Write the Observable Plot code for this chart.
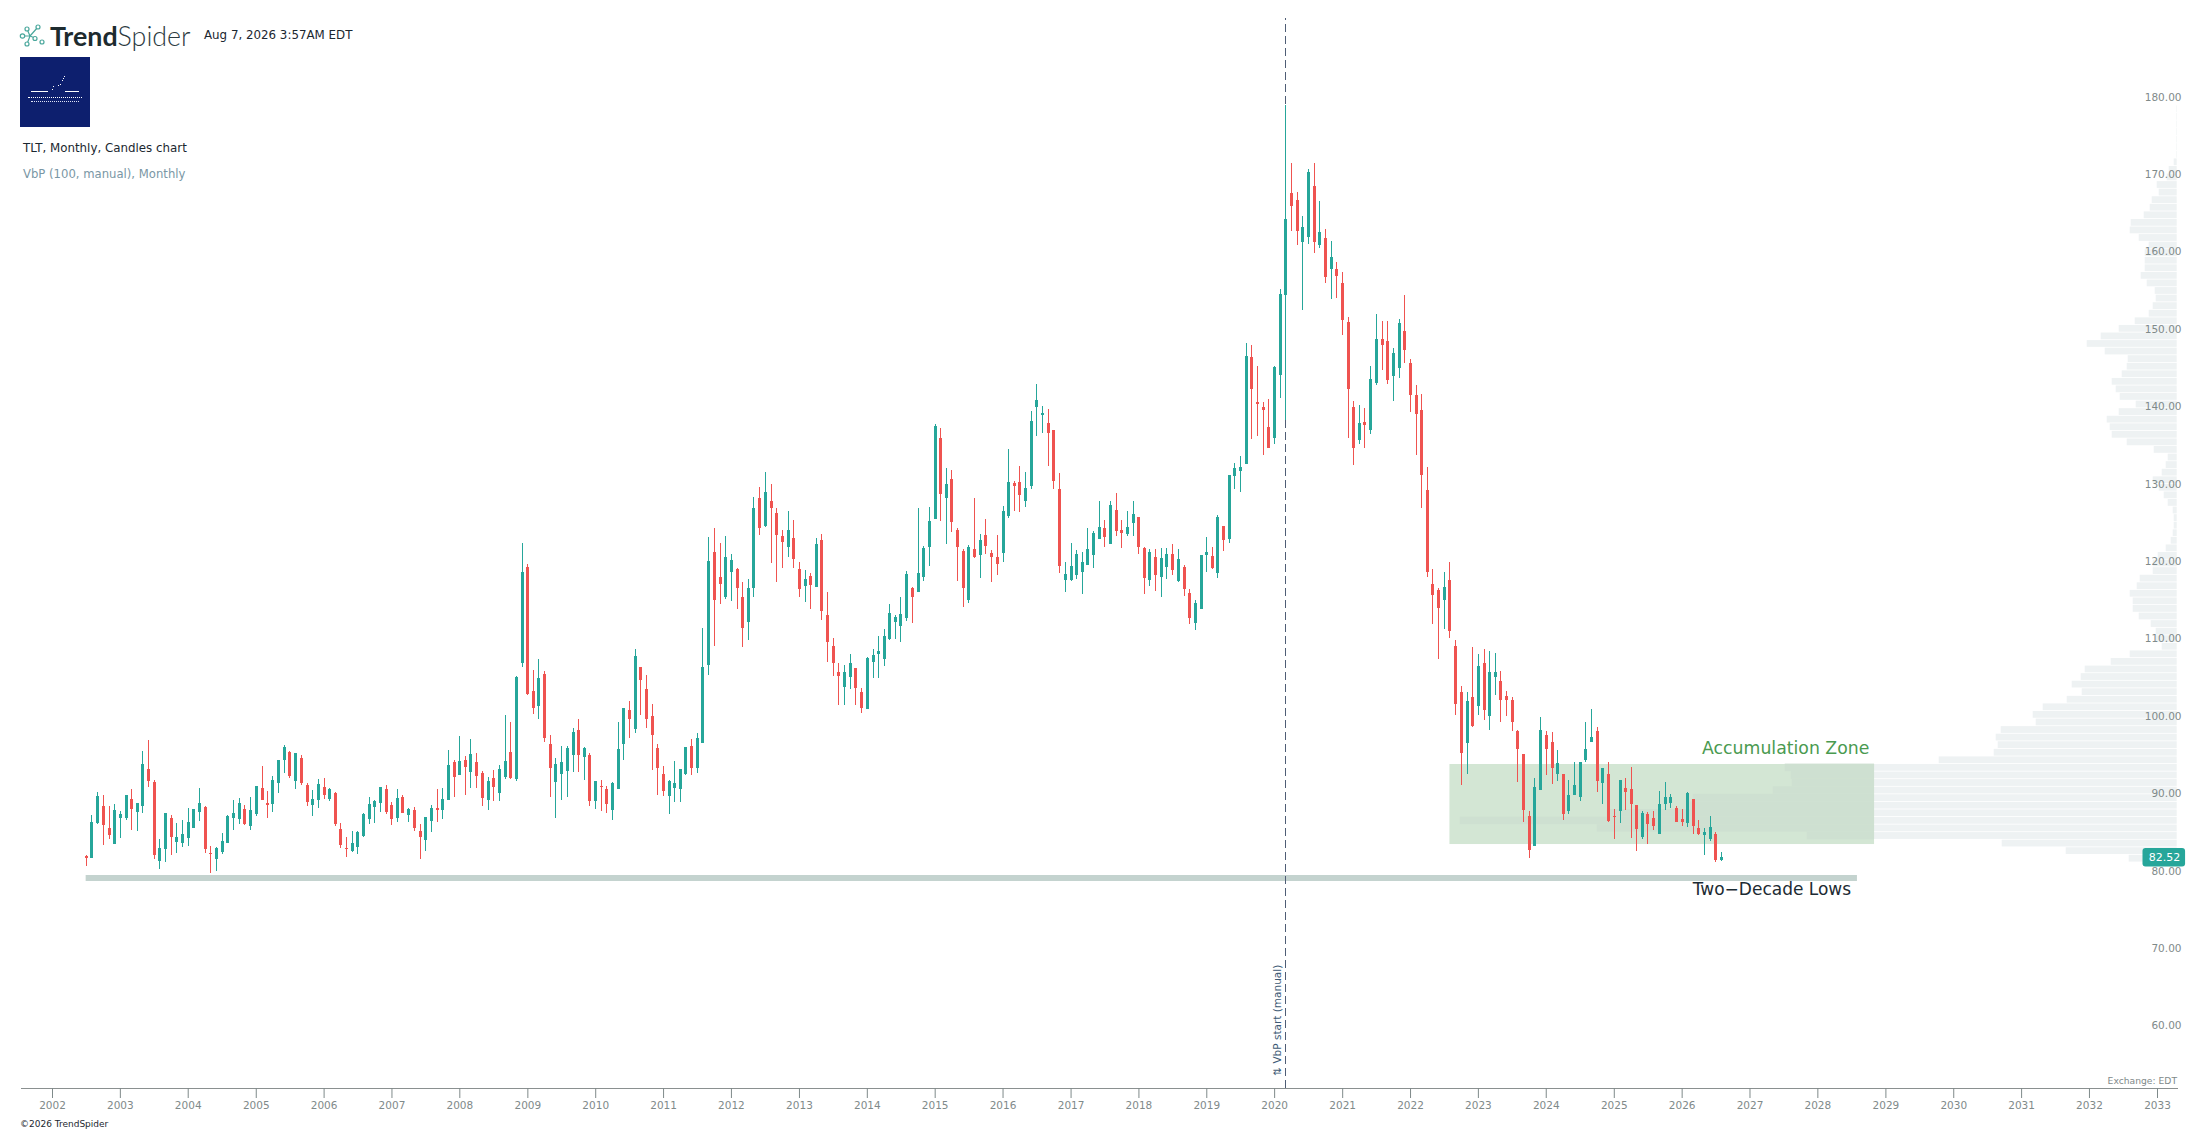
<!DOCTYPE html>
<html>
<head>
<meta charset="utf-8">
<script src="https://cdn.jsdelivr.net/npm/d3@7"></script>
<script src="https://cdn.jsdelivr.net/npm/@observablehq/plot@0.6"></script>
<style>
html,body{margin:0;padding:0;background:#fff;}
#page{position:relative;width:2207px;height:1134px;overflow:hidden;font-family:"DejaVu Sans",sans-serif;}
#chart{position:absolute;left:0;top:0;}
.abs{position:absolute;white-space:nowrap;}
</style>
</head>
<body>
<div id="page">
<div id="chart"></div>
<svg class="abs" style="left:18px;top:22px" width="32" height="26" viewBox="18 22 32 26">
<g fill="none" stroke="#4aa79c" stroke-width="1.2"><path d="M27 29L30 36L27 44M22 36L30 36M30 36L38 27M30 36L35 38"/></g>
<g fill="#fff" stroke="#4aa79c" stroke-width="1.2"><circle cx="22.5" cy="36" r="2.2"/><circle cx="27" cy="29" r="2"/><circle cx="38" cy="27" r="2"/><circle cx="35" cy="38.5" r="2"/><circle cx="42" cy="42" r="2"/><circle cx="27" cy="44" r="2"/></g>
</svg>
<div class="abs" style="left:50px;top:20px;font:700 26.8px Lato,sans-serif;color:#1d2b2f;line-height:30px">Trend<span style="font:300 26.8px Lato,sans-serif;color:#2b3a3f">Spider</span></div>
<div class="abs" style="left:204px;top:28px;font-size:11.85px;line-height:15px;color:#1b2730">Aug 7, 2026 3:57AM EDT</div>
<div class="abs" style="left:20px;top:57px;width:70px;height:70px;background:#0d1f6e">
  <div class="abs" style="left:11px;top:34px;width:17px;height:1px;background:#fff"></div>
  <div class="abs" style="left:45px;top:34px;width:14px;height:1px;background:#fff"></div>
  <div class="abs" style="left:8px;top:40px;width:54px;border-top:1px dotted #fff"></div>
  <div class="abs" style="left:11px;top:44px;width:48px;border-top:1px dotted #dfe3f5"></div>
  <div class="abs" style="left:32px;top:32px;width:1px;height:1px;background:#fff;box-shadow:1px -3px #fff,6px -4px #fff,8px -5px #fff,10px -9px #fff,11px -11px #fff,12px -13px #fff"></div>
</div>
<div class="abs" style="left:23px;top:141px;font-size:11.85px;line-height:15px;color:#1b2730">TLT, Monthly, Candles chart</div>
<div class="abs" style="left:23px;top:167px;font-size:11.65px;line-height:15px;color:#7a97a5">VbP (100, manual), Monthly</div>
<div class="abs" style="right:30px;top:1074px;font-size:9.2px;line-height:13px;color:#7f8a8a">Exchange: EDT</div>
<div class="abs" style="left:20px;top:1118px;font-size:9px;line-height:12px;color:#1b2730">©2026 TrendSpider</div>
</div>
<script>
// Monthly candles from July 2002 to August 2026
const firstMonth = Date.UTC(2002, 6, 1);
const direction = "DUUDDUUUDU"+"UDDUUDUUUU"+"UDDUUUUUDU"+"UDDUUUDUDD"+"UUDUDDDUUU"+"UUUDDUDUDD"+"UUDUUDUDUD"+"DUDUUDUUDD"+"UDDUUUUDUD"+"UDDUUUDUDD"
 +"DDDUUUUDUU"+"UDDUUDDUUD"+"UDDDUDDUDU"+"DDDDUUDDUU"+"UUUUUUDUUU"+"UDUDDDUDUD"+"DDUUDDUUUU"+"DDDUUUUUUU"+"DUDDUUDDUD"+"UUDUDDUUUD"
 +"UDUUUUDDDD"+"UUUDDUUDUD"+"UDDDDUDUUD"+"DUUDDDDDDD"+"UDDDUDUDUU"+"DDDDDDUUDD"+"UDUUUUUDUD"+"DUDDDUDDUU"+"UDDUDDUUDU";
const highs = [
82.8,87.97,90.94,90.55,89.13,89.39,88.49,90.55,91.33,89.52,
96.24,97.66,92.49,84.87,88.23,87.97,86.94,87.32,88.87,88.74,
91.46,89.13,83.96,83.83,85.64,87.97,89.91,90.16,89.26,90.29,
91.72,94.3,91.07,93.01,95.07,97.01,96.24,95.98,95.72,92.1,
91.2,92.62,92.75,91.46,90.94,86.94,85.13,85.9,85.9,88.23,
90.29,89.91,91.59,91.84,89.65,91.33,90.55,88.87,89,86.81,
87.71,89.26,91.33,91.46,96.37,95.07,98.18,95.59,97.79,95.98,
93.65,92.88,93.78,94.43,100.89,99.98,105.93,123.1,120.4,106.7,
108.12,106.57,98.31,95.33,96.88,96.88,99.21,100.37,96.75,95.98,
92.36,92.49,91.72,92.23,99.98,101.79,102.7,109.42,107.09,106.06,
102.31,97.14,94.3,92.49,94.95,93.91,96.75,97.79,98.56,112.13,
123.89,125.05,123.11,124.02,121.69,119.88,118.07,118.46,129.06,130.35,
132.29,130.73,127.63,124.79,127.25,126.08,120.66,119.62,119.23,123.76,
124.27,116.78,110.84,107.61,107.35,108.77,106.96,104.38,108.38,109.42,
111.09,112,115.23,113.81,116.13,119.49,117.43,127.63,122.72,127.76,
138.49,137.97,132.8,132.54,125.05,122.34,122.85,128.93,124.27,126.21,
122.21,124.15,127.89,135.26,131.12,133.06,132.29,140.17,143.65,140.81,
140.42,137.71,132.16,120.66,123.11,122.21,121.95,125.05,124.66,128.54,
126.08,128.54,129.57,126.08,127.25,128.54,126.47,122.6,122.34,122.34,
122.47,122.47,122.98,122.34,120.27,117.17,115.75,121.56,123.89,122.6,
126.73,125.31,131.9,133.45,134.35,148.95,148.69,145.98,141.32,141.71,
145.98,155.93,179.7,172.2,168.46,165.36,171.43,172.2,167.3,163.68,
162.13,159.41,158.12,152.31,141.45,140.94,140.55,145.98,152.69,151.79,
151.79,148.3,152.05,155.15,146.88,143.52,142.36,132.93,119.75,117.3,
119.36,120.66,110.58,104.63,103.86,109.67,108.77,109.42,109.16,108.9,
106.57,104,103.21,98.95,95.85,88.48,92.75,100.63,98.82,98.69,
96.37,93.26,92.49,94.81,94.81,99.98,101.66,99.34,94.04,94.81,
88.74,92.49,92.75,94.17,89.26,88.48,88.35,88.48,91.07,92.23,
90.68,89.13,88.74,90.94,90.03,87.32,86.29,87.84,85.77,83.19];
const bodyTops = [
82.67,87.06,90.42,89.13,86.29,88.61,88.1,90.55,90.04,89.52,
94.56,93.91,92.23,83.71,88.23,87.58,85.13,85.51,87.06,88.74,
89.52,89,83.02,83.71,84.61,87.84,88.23,89.52,88.74,88.61,
91.72,91.46,89.52,92.49,95.07,96.75,96.11,95.98,95.33,91.84,
90.04,91.97,91.59,91.33,90.81,86.16,83.66,84.35,85.77,88.1,
89.39,89.78,91.59,91.33,89.26,90.16,90.29,88.74,88.61,85.9,
87.71,88.87,88.87,90.04,94.43,94.82,94.95,95.07,95.85,94.82,
93.39,92.36,92.75,93.91,94.95,96.11,105.8,119.4,120,103.99,
105.67,106.19,97.14,94.56,94.82,96.63,98.69,98.95,96.63,95.72,
92.36,91.67,91.33,92.1,96.5,101.79,101.54,108.51,107.09,104.25,
100.76,96.63,93.27,92.36,92.1,93.91,96.75,96.88,97.92,107.09,
120.79,121.95,118.72,121.3,120.91,119.75,116.13,117.3,127.63,128.93,
129.7,128.54,126.99,124.02,124.79,123.76,119.75,118.46,118.85,122.98,
123.5,113.81,109.8,106.44,106.44,107.61,106.96,103.86,108.25,108.64,
109.16,111.09,114.07,113.55,113.94,119.1,117.3,119.24,122.47,125.95,
138.23,136.68,130.73,131.38,124.79,122.08,122.6,122.34,123.5,124.15,
121.82,121.3,127.25,130.99,130.86,130.99,130.22,138.87,141.59,139.91,
138.61,137.71,130.09,119.1,120.14,121.69,120.66,122.34,124.4,125.18,
125.05,128.02,127.38,124.79,125.18,126.86,126.47,122.47,121.95,121.3,
121.17,121.69,121.69,121.04,120.01,116.65,115.36,121.56,121.95,121.43,
126.47,125.31,131.9,132.8,132.93,147.27,147.14,141.32,140.68,138.09,
145.85,155.28,164.97,168.33,167.42,163.94,171.04,169.23,163.29,162.52,
160.06,158.51,156.7,151.66,140.68,138.61,138.74,144.29,149.46,149.46,
149.21,147.66,151.53,150.5,146.36,142.23,140.29,129.96,117.81,117.04,
117.43,118.33,109.8,103.86,102.7,103.21,107.22,107.61,106.44,106.44,
105.28,103.34,102.83,98.82,95.85,87.84,91.58,98.95,98.3,97.4,
94.69,93.26,90.55,91.84,94.81,96.49,98.04,98.82,94.04,93.26,
87.84,92.49,91.46,91.33,89.26,88.22,88.1,87.58,89.39,90.29,
90.29,88.87,87.45,90.81,90.03,86.29,85.77,86.42,85.51,82.54];
const bodyBottoms = [
82.41,82.4,86.94,86.68,85.38,84.22,87.58,87.58,88.74,88.36,
89.13,92.36,82.8,82.02,83.58,85.13,84.48,84.35,85,86.29,
88.36,83.58,82.97,82.28,83.19,84.35,87.58,87.45,86.81,86.55,
88.1,89.91,89.26,89.39,92.1,95.07,93.01,92.36,92.1,89.65,
89.26,89.91,90.55,90.04,86.81,84.09,83.62,83.32,83.83,85.26,
87.45,89,89.52,88.36,87.45,87.58,88.23,87.97,86.29,85.13,
84.74,87.19,88.61,88.61,89.91,92.88,93.14,94.17,93.52,93.01,
90.16,89.91,91.59,90.81,92.88,92.75,92.62,107.6,103.6,101.79,
102.05,97.92,94.04,92.23,93.27,93.65,95.72,95.72,95.46,89.78,
89.78,91.63,89.39,88.61,91.33,97.14,100.37,99.08,105.41,100.37,
98.31,94.04,91.07,90.42,91.46,91.33,93.27,94.04,94.04,97.27,
107.35,115.75,117.81,116.13,119.36,117.3,112.13,112.9,117.3,125.05,
125.31,127.63,124.15,123.24,122.6,121.04,117.17,117.56,117.68,117.43,
114.32,110.32,107.61,105.93,104.51,105.8,104.38,101.79,101.66,107.74,
108.77,108.12,110.71,112.9,112.39,113.42,116.13,116.78,118.72,122.6,
126.21,129.44,128.93,125.83,122.6,117.3,115.75,121.3,121.56,122.72,
121.3,120.4,121.82,126.6,130.48,129.31,128.54,130.48,140.68,139.65,
137.32,131.12,120.14,118.33,118.33,118.98,119.36,120.27,121.56,123.63,
123.89,122.98,124.66,124.4,124.27,125.7,122.6,118.59,118.33,118.98,
118.72,120.01,119.62,118.2,117.17,113.42,112.77,114.58,121.56,119.88,
119.24,123.5,123.63,131.77,132.41,133.31,143,141.07,140.29,135.38,
136.67,144.81,155.15,166.65,163.42,162,162.64,162,161.61,157.48,
158.51,157.6,151.92,143,135.38,136.41,138.35,137.71,143.78,148.69,
144.17,144.68,145.72,148.04,142.23,139.77,131.89,119.36,116.39,114.71,
115.75,111.74,102.31,95.98,97.27,99.47,102.05,101.53,100.76,105.8,
102.83,102.83,99.98,96.49,88.61,83.45,83.96,91.2,96.49,94.04,
93.26,88.1,88.48,90.55,90.29,95.07,97.4,92.36,92.1,87.19,
87.75,88.48,90.94,89.39,86.16,85.12,86.8,86.55,85.51,89.39,
89.52,87.06,87.06,86.93,86.55,85.51,85.38,84.87,82.15,82.15];
const lows = [
81.38,82.4,86.81,84.09,84.87,84.22,85,87.32,86.03,85.9,
88.23,91.59,82.28,80.99,81.9,82.8,83.06,83.83,83.96,86.29,
87.19,83.06,80.47,80.73,82.93,84.35,86.03,86.81,86.68,86.03,
87.84,89.91,87.58,88.36,90.81,93.39,92.75,91.33,91.84,89.13,
87.84,88.87,90.04,89.78,86.55,83.71,82.54,83.19,82.93,85.13,
86.81,86.94,88.36,88.1,86.68,87.06,88.23,87.06,85.9,82.28,
83.32,85.77,87.06,87.45,89.91,90.29,93.14,90.55,91.46,91.46,
89.13,88.61,89.78,89.78,92.62,92.62,92.36,107.1,103.5,101.02,
100.37,97.4,90.29,87.58,89.91,90.29,93.52,93.52,92.49,89.13,
88.74,88.49,88.23,87.32,91.33,95.07,97.92,98.56,100.89,99.21,
93.78,90.55,90.42,88.1,89.65,89.65,93.14,93.14,93.39,97.27,
106.06,109.8,115.23,115.88,115.62,114.58,109.67,110.58,116.13,124.15,
125.18,120.53,118.07,119.88,121.3,119.88,116.13,115.49,114.58,117.43,
113.16,107.74,105.93,102.18,102.18,104.25,102.18,101.15,101.66,105.67,
105.67,107.22,110.58,110.71,110.32,113.03,112.77,116.78,118.2,120.14,
126.21,125.95,122.98,124.53,118.2,114.84,115.36,121.17,118.59,121.69,
118.07,118.98,120.66,126.34,127.25,127.12,127.76,130.09,136.93,137.32,
133.06,130.09,119.24,116.78,118.2,118.46,116.52,120.27,119.88,123.63,
122.6,122.98,124.02,122.47,124.02,124.02,121.69,116.52,117.56,116.91,
116.13,118.46,118.98,118.07,116.26,112.65,111.87,114.58,119.36,119.75,
118.59,122.08,123.11,130.09,129.7,133.31,136.54,136.93,134.48,135.38,
135.9,141.84,139,163.42,161.61,153.21,161.74,160.58,161.22,156.7,
154.63,154.76,149.98,136.67,133.18,135.9,135.38,137.19,143.52,145.46,
143.65,141.45,144.43,146.36,140.03,134.48,127.63,118.72,112.65,108.12,
112,110.84,100.89,91.84,93.26,99.34,100.89,100.24,98.95,103.47,
100,100.76,98.82,92.23,87.06,82.41,83.96,91.2,93.13,91.97,
92.36,87.32,88.1,90.55,89.78,94.81,97.4,90.94,89.39,87.06,
84.87,86.93,88.61,85,83.31,84.87,84.22,86.03,85.51,88.61,
88.87,87.06,86.55,86.42,85.51,85.38,82.8,84.61,81.89,82.02];

// Volume by price: 100 bins, highest price first (relative volume)
const profileTop = 179.7;
const profileStep = 0.978;
const profileVolumes = [
0.5,0.5,0.5,0.5,0.5,0.5,0.5,3,8,10,
20,18,25,27,33,46,47,38,28,32,
32,32,36,30,22,21,24,28,42,58,
76,90,72,49,50,55,65,61,57,41,
58,70,67,65,50,23,9,11,15,24,
18,13,9,4,3,3,4,6,11,19,
24,24,37,40,47,44,44,38,26,21,
21,15,47,66,92,96,105,95,110,134,
144,141,176,181,179,183,238,392,386,385,
404,484,487,570,717,580,370,175,111,48];

const yearTicks = d3.range(2002, 2034);
const priceTicks = d3.range(60, 190, 10);
const lastPrice = 82.52;
const vbpStart = new Date(Date.UTC(2020, 2, 1));
const zone = {from: new Date(Date.UTC(2022, 7, 1)), to: new Date(Date.UTC(2028, 10, 1)), high: 94.56, low: 84.22};
const lowsLine = {from: new Date(firstMonth), to: new Date(Date.UTC(2028, 7, 1)), price: 79.9};

const UP = "#26a69a", DOWN = "#ef5350";
const candles = highs.map((h, i) => ({
  date: new Date(Date.UTC(2002, 6 + i, 1)),
  high: h, low: lows[i], top: bodyTops[i], bottom: bodyBottoms[i],
  color: direction[i] === "U" ? UP : DOWN
}));

const xRange = [52, 2157];
const xDomain = [new Date(Date.UTC(2002, 0, 1)), new Date(Date.UTC(2033, 0, 1))];
const msPerVolumeUnit = (xDomain[1] - xDomain[0]) / (xRange[1] - xRange[0]);
const profileEdge = new Date(Date.UTC(2033, 3, 17));
const bins = profileVolumes.map((v, k) => ({
  x1: new Date(+profileEdge - v * msPerVolumeUnit), x2: profileEdge,
  y1: profileTop - k * profileStep, y2: profileTop - (k + 1) * profileStep
}));
// Bins that reach into the accumulation zone are seen through it
const binsInZone = bins
  .filter(b => b.x1 < zone.to && b.y1 <= zone.high + 0.1 && b.y2 >= zone.low)
  .map(b => ({...b, x2: zone.to, x1: b.x1 < zone.from ? zone.from : b.x1}));

const chart = Plot.plot({
  width: 2207, height: 1134,
  marginLeft: 21, marginRight: 30, marginTop: 0, marginBottom: 46,
  style: {fontFamily: "'DejaVu Sans', sans-serif", fontSize: "10.5px", background: "transparent"},
  x: {type: "utc", domain: xDomain, range: xRange, label: null},
  y: {type: "linear", domain: [60, 180], range: [1031.5, 102.7], label: null},
  marks: [
    Plot.rect(bins, {x1: "x1", x2: "x2", y1: "y1", y2: "y2", fill: "#eef2f3", insetTop: 0.4, insetBottom: 0.4}),
    Plot.rect([zone], {x1: "from", x2: "to", y1: "low", y2: "high", fill: "#d3e6d4"}),
    Plot.rect(binsInZone, {x1: "x1", x2: "x2", y1: "y1", y2: "y2", fill: "#cee0d1"}),
    Plot.ruleY([lowsLine], {x1: "from", x2: "to", y: "price", stroke: "#c4d3cf", strokeWidth: 6}),
    Plot.ruleX([vbpStart], {x: d => d, y1: 52.7, y2: 190.9, stroke: "#4f5d75", strokeWidth: 1, strokeDasharray: "8,4", shapeRendering: "crispEdges"}),
    Plot.ruleX(candles, {x: "date", y1: "low", y2: "high", stroke: "color", strokeWidth: 1, shapeRendering: "crispEdges"}),
    Plot.ruleX(candles, {x: "date", y1: "bottom", y2: "top", stroke: "color", strokeWidth: 3, shapeRendering: "crispEdges"}),
    Plot.frame({anchor: "bottom", stroke: "#8a9090"}),
    Plot.axisX({anchor: "bottom", ticks: yearTicks.map(y => new Date(Date.UTC(y, 0, 1))), tickFormat: d => String(d.getUTCFullYear()),
      tickSize: 10, tickPadding: 3, color: "#7f8a8a", fontSize: 10.5, label: null}),
    Plot.axisY({anchor: "right", ticks: priceTicks, tickFormat: d => d.toFixed(2), tickSize: 0, tickPadding: 4,
      textAnchor: "end", dy: -6, color: "#7f8a8a", fontSize: 10.5, label: null}),
    Plot.rect([lastPrice], {x1: () => new Date(Date.UTC(2032, 9, 15)), x2: () => new Date(Date.UTC(2033, 5, 1)),
      y1: d => d - 1.2, y2: d => d + 1.2, fill: UP, rx: 3}),
    Plot.text([lastPrice], {x: () => new Date(Date.UTC(2033, 1, 8)), y: d => d, text: d => d.toFixed(2), fill: "#fff", fontSize: 11, fontWeight: 500}),
    Plot.text(["Accumulation Zone"], {x: () => new Date(Date.UTC(2028, 9, 4)), y: () => 96.6, text: d => d, textAnchor: "end", fill: "#4a9a50", fontSize: 17.3}),
    Plot.text(["Two\u2212Decade Lows"], {x: () => new Date(Date.UTC(2028, 5, 28)), y: () => 78.4, text: d => d, textAnchor: "end", fill: "#1c2b33", fontSize: 17}),
    Plot.text(["\u21C5 VbP start (manual)"], {x: () => vbpStart, y: () => 54.35, text: d => d, rotate: -90, textAnchor: "start", dx: -8, fill: "#3d5a75", fontSize: 10.5})
  ]
});
document.getElementById("chart").appendChild(chart);
</script>
</body>
</html>
